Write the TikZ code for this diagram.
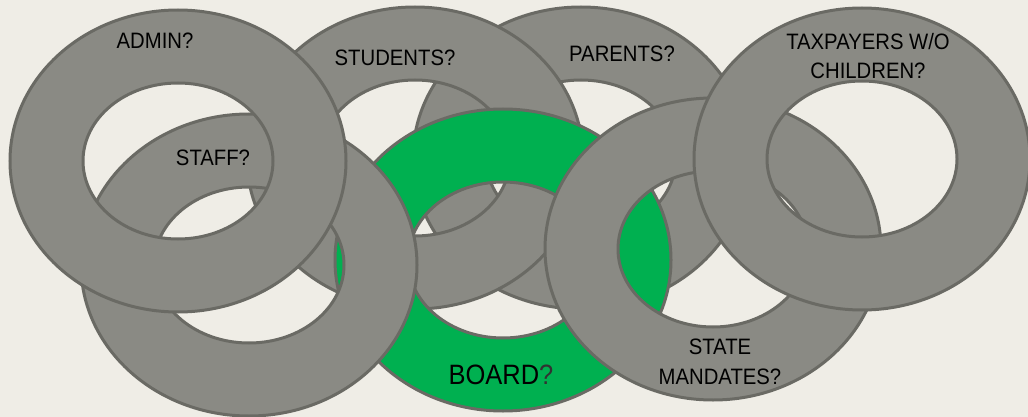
\documentclass[tikz,border=0pt]{standalone}
\usepackage{fontspec}
\setmainfont{Liberation Sans}[FakeStretch=0.91]
\newlength{\du}
\setlength{\du}{1pt}
\definecolor{ringfill}{RGB}{138,138,132}
\definecolor{ringline}{RGB}{106,106,100}
\definecolor{boardgreen}{RGB}{0,176,80}
\definecolor{paper}{RGB}{239,237,230}
\definecolor{qmark}{RGB}{50,50,50}
\tikzset{
  ring/.style={fill=ringfill, draw=ringline, line width=3\du, even odd rule},
  greenring/.style={ring, fill=boardgreen},
  lbl/.style={anchor=center, align=center, inner sep=0pt, text=black,
    font=\fontsize{22.3}{29.5}\selectfont},
  biglbl/.style={lbl, font=\fontsize{28}{34}\selectfont}
}
% one ring: outer and inner ellipse, centre in \du
\newcommand{\ringat}[3][ring]{%
  \draw[#1] (#2\du,#3\du) ellipse [x radius=168\du, y radius=151\du]
    (#2\du,#3\du) ellipse [x radius=95\du, y radius=78\du];}

\begin{document}
\begin{tikzpicture}
\pgftransformxscale{1.000000}
\pgftransformyscale{-1.000000}
\fill[paper] (0\du,0\du) rectangle (1028\du,417\du);
\useasboundingbox (0\du,0\du) rectangle (1028\du,417\du);
% rings, back to front
\ringat{581}{158}% parents
\ringat{415}{158}% students
\ringat[greenring]{503}{260}% board
\ringat{249}{265}% staff
\ringat{178}{161}% admin
\ringat{713}{249}% state
\ringat{862}{159}% taxpayers
% labels
\node[lbl] (admin) at (155\du,41\du){ADMIN?};
\node[lbl] (students) at (395\du,58\du){STUDENTS?};
\node[lbl] (staff) at (213\du,158\du){STAFF?};
\node[lbl] (parents) at (622\du,54\du){PARENTS?};
\node[lbl] (taxpayers) at (868\du,56\du){TAXPAYERS W/O\\CHILDREN?};
\node[lbl] (state) at (720\du,362\du){STATE\\MANDATES?};
\node[biglbl] (board) at (501\du,375\du){BOARD\textcolor{qmark}{?}};
\end{tikzpicture}
\end{document}
